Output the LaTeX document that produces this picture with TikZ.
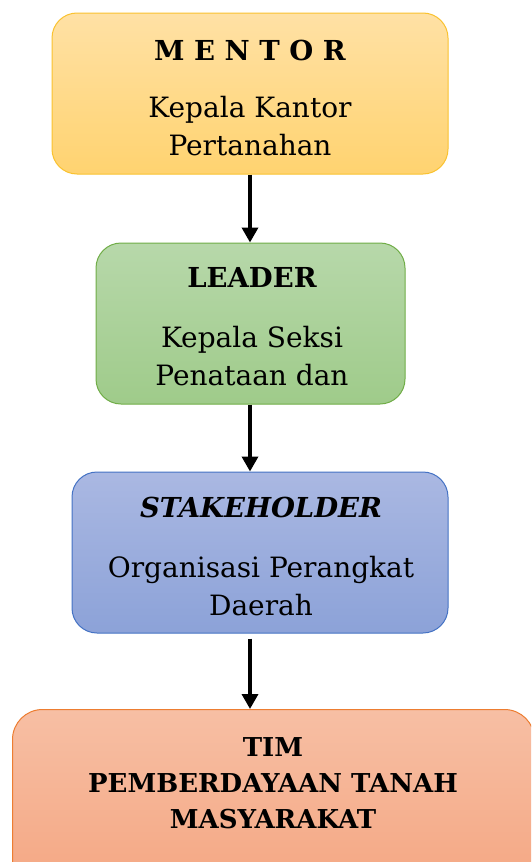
\documentclass[tikz,border=0pt]{standalone}
\usepackage{fontspec}
\setmainfont{DejaVu Serif}
\usetikzlibrary{arrows.meta}

\definecolor{mentorTop}{HTML}{FFE1A5}
\definecolor{mentorBot}{HTML}{FFD370}
\definecolor{mentorLine}{HTML}{FAC22F}
\definecolor{leaderTop}{HTML}{B7D8AA}
\definecolor{leaderBot}{HTML}{9FCB8A}
\definecolor{leaderLine}{HTML}{70AD47}
\definecolor{stakeTop}{HTML}{AAB8E2}
\definecolor{stakeBot}{HTML}{8CA2D8}
\definecolor{stakeLine}{HTML}{4472C4}
\definecolor{timTop}{HTML}{F7BFA4}
\definecolor{timBot}{HTML}{F4A47F}
\definecolor{timLine}{HTML}{ED7D31}

\tikzset{
  card/.style={rounded corners=25pt, line width=1pt},
  mentorcard/.style={card, draw=mentorLine, top color=mentorTop, bottom color=mentorBot},
  leadercard/.style={card, draw=leaderLine, top color=leaderTop, bottom color=leaderBot},
  stakecard/.style={card, draw=stakeLine, top color=stakeTop, bottom color=stakeBot},
  timcard/.style={card, rounded corners=30pt, draw=timLine, top color=timTop, bottom color=timBot},
  cardtext/.style={align=center, inner sep=0pt, font=\fontsize{28}{38}\selectfont},
  heading/.style={font=\fontsize{26}{36}\selectfont\bfseries, align=center},
  flow/.style={line width=3.5pt, -{Triangle[width=16pt,length=15pt]}},
}
\newcommand{\cardhead}[1]{{\fontsize{27.5}{38}\selectfont\bfseries #1}}

\begin{document}
\begin{tikzpicture}[x=1pt,y=-1pt]
\clip (0,0) rectangle (531,862);
\fill[white] (0,0) rectangle (531,862);

% role cards
\node[mentorcard, minimum width=396pt, minimum height=161pt] (mentor) at (250,93.5) {};
\node[cardtext] (mentortext) at (250,97.5)
  {\cardhead{M E N T O R}\\[19pt]Kepala Kantor\\Pertanahan};
\node[leadercard, minimum width=309pt, minimum height=161pt] (leader) at (250.5,323.5) {};
\node[cardtext] (leadertext) at (252,327)
  {\cardhead{LEADER}\\[22pt]Kepala Seksi\\Penataan dan};
\node[stakecard, minimum width=376pt, minimum height=161pt] (stake) at (260,552.5) {};
\node[cardtext] (staketext) at (261,556.5)
  {\cardhead{\itshape STAKEHOLDER}\\[22pt]Organisasi Perangkat\\Daerah};

% team card runs past the lower and right edges
\node[timcard, minimum width=522pt, minimum height=200pt, anchor=north west] (tim) at (12,709) {};
\node[heading] (timtext) at (273,783) {TIM\\PEMBERDAYAAN TANAH\\MASYARAKAT};

% flow arrows
\draw[flow] (mentor.south) -- (mentor.south |- leader.north);
\draw[flow] (mentor.south |- leader.south) -- (mentor.south |- stake.north);
\draw[flow] ([yshift=-5pt]mentor.south |- stake.south) -- (mentor.south |- tim.north);
\end{tikzpicture}
\end{document}
